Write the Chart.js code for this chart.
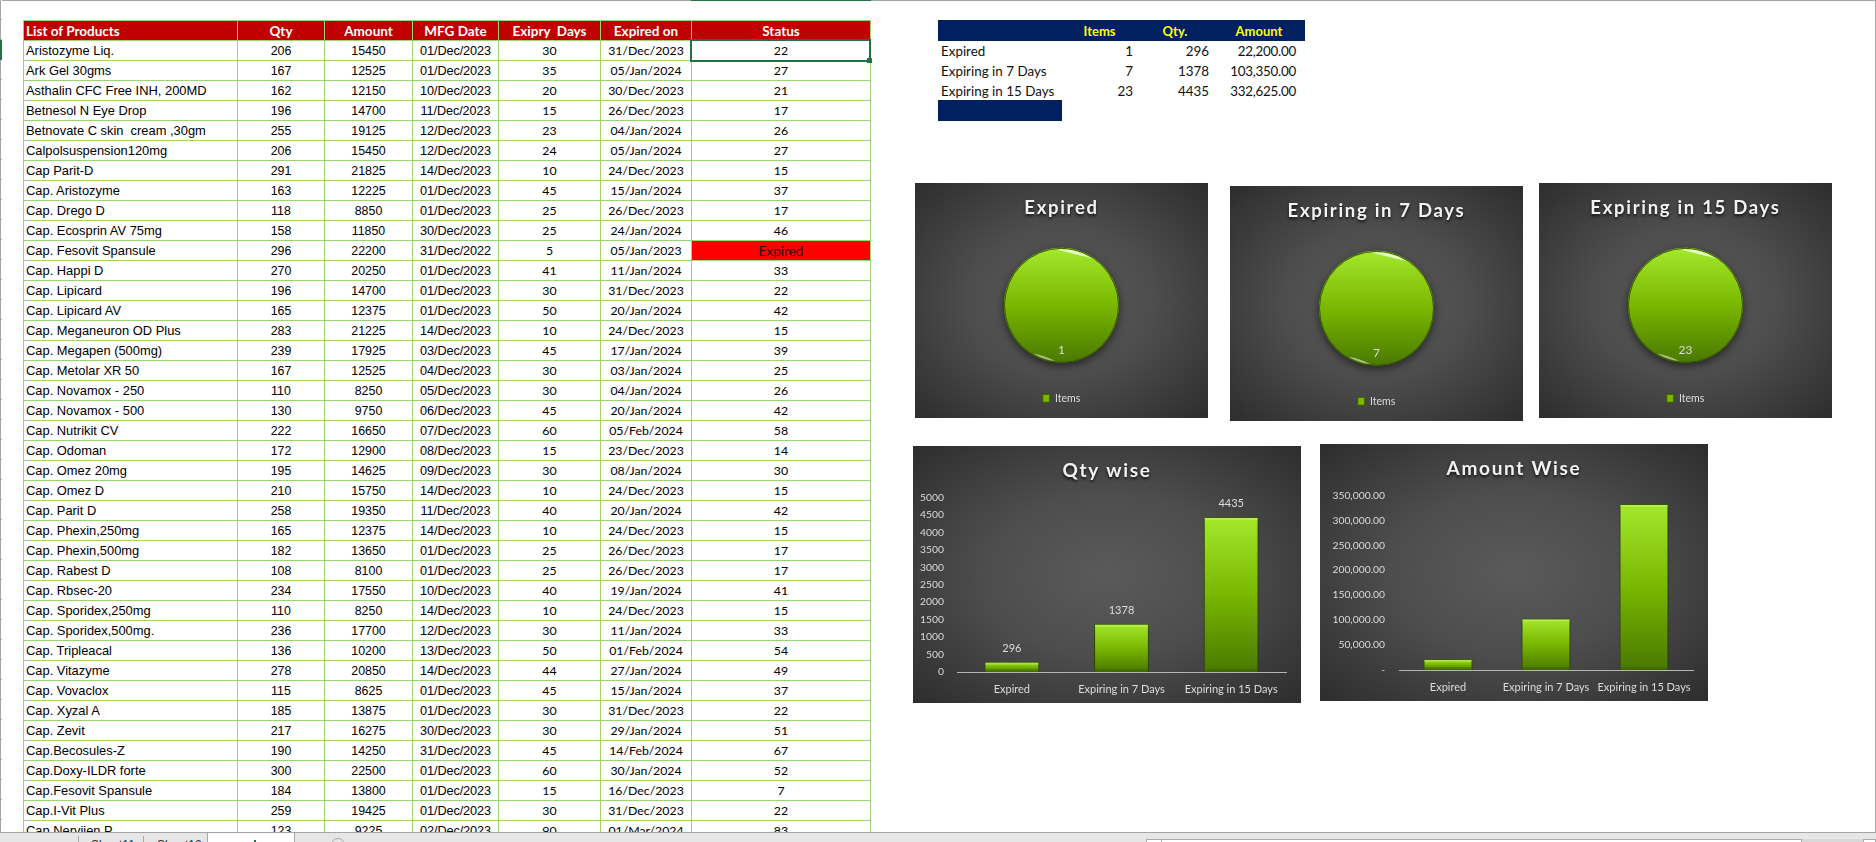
<!DOCTYPE html>
<html>
<head>
<meta charset="utf-8">
<title>Medicine expiry dashboard</title>
<script src="https://cdn.jsdelivr.net/npm/chart.js@4"></script>
<style>
html, body { margin: 0; padding: 0; width: 1876px; height: 842px; overflow: hidden; background: #fff; }
.abs { position: absolute; }
#topLine { left: 0; top: 0; width: 1876px; height: 1px; background: #a6a6a6; }
#topSel { left: 691px; top: 0; width: 180px; height: 1px; background: #217346; }
#gutter { left: 0; top: 0; width: 2px; height: 832px; background: repeating-linear-gradient(#fff 0, #fff 19px, #b0b0b0 19px, #b0b0b0 20px); border-left: 1px solid #a6a6a6; box-sizing: border-box; }
#gutterSel { left: 0; top: 40px; width: 2px; height: 20px; background: #217346; }
#rightLine { left: 1875px; top: 0; width: 1px; height: 832px; background: #a6a6a6; }
#sheet { left: 23px; top: 20px; border-collapse: collapse; table-layout: fixed; width: 847px; }
#sheet tr { height: 20px; }
#sheet th, #sheet td { border: 1px solid #9bd56f; height: 19px; box-sizing: border-box; padding: 0; white-space: nowrap; overflow: hidden; text-align: center; color: #000; line-height: 18px; }
#sheet th { background: #c00000; color: #fff; font: bold 13.5px/18px Lato, sans-serif; padding-top: 1px; }
#sheet th:first-child { text-align: left; padding-left: 2px; }
#sheet td.name { text-align: left; padding-left: 2px; font: 12.9px/18px "Liberation Sans", Arial, sans-serif; }
#sheet td.num { font: 12.4px/18px "Liberation Sans", Arial, sans-serif; }
#sheet td.mfg { font: 12.7px/18px "Liberation Sans", Arial, sans-serif; letter-spacing: -0.1px; }
#sheet td.cal { font: 12.3px/18px Lato, sans-serif; padding-top: 1px; }
#sheet td.exp { background: #ff0000; color: #300; font-size: 13.6px; }
#selCell { left: 690px; top: 39px; width: 177px; height: 19px; border: 2px solid #217346; }
#selHandle { left: 867px; top: 58px; width: 5px; height: 5px; background: #217346; }
#summary { left: 938px; top: 20px; border-collapse: collapse; table-layout: fixed; width: 367px; font: 13.4px/20px Lato, sans-serif; }
#summary th { background: #002060; color: #ffff00; height: 21px; padding: 1px 0 0; box-sizing: border-box; font: bold 13px/20px Lato, sans-serif; text-align: center; }
#summary td { height: 20px; padding: 1px 4px 0 0; box-sizing: border-box; line-height: 19px; text-align: right; color: #111; white-space: nowrap; }
#summary td:first-child { text-align: left; padding-left: 3px; }
#summary td:last-child { padding-right: 9px; letter-spacing: -0.25px; }
#summaryFoot { left: 938px; top: 100px; width: 124px; height: 21px; background: #002060; }
.panel { position: absolute; background: radial-gradient(ellipse farthest-corner at 50% 50%, #5a5a5a 0%, #4d4d4d 45%, #2d2d2d 100%); }
.panel canvas { display: block; }
#bottomBar { left: 0; top: 832px; width: 1876px; height: 10px; background: #e6e6e6; border-top: 1px solid #a6a6a6; box-sizing: border-box; overflow: hidden; z-index: 5; font: 12px/14px "Liberation Sans", sans-serif; color: #333; }
.tabSep { top: 3px; width: 1px; height: 8px; background: #a6a6a6; }
.tabName { top: 5px; }
#activeTab { left: 207px; top: -1px; width: 88px; height: 12px; background: #fff; border: 1px solid #a6a6a6; border-top: 0; box-sizing: border-box; }
#activeMark { left: 254px; top: 7px; width: 2px; height: 4px; background: #217346; }
#addSheet { left: 331px; top: 5px; width: 12px; height: 12px; border: 1px solid #a6a6a6; border-radius: 50%; }
#scrollBox { left: 1146px; top: 6px; width: 656px; height: 10px; background: #fff; border: 1px solid #ababab; box-sizing: border-box; }
#scrollArrow { left: 1161px; top: 6px; width: 1px; height: 8px; background: #ababab; }
#scrollRest { left: 1802px; top: 6px; width: 61px; height: 8px; background: #d8d8d8; }
#scrollEnd { left: 1863px; top: 6px; width: 13px; height: 10px; background: #fff; border: 1px solid #ababab; box-sizing: border-box; }
</style>
</head>
<body>
<div class="abs" id="topLine"></div>
<div class="abs" id="topSel"></div>
<div class="abs" id="gutter"></div>
<div class="abs" id="gutterSel"></div>
<div class="abs" id="rightLine"></div>

<table class="abs" id="sheet"></table>
<div class="abs" id="selCell"></div>
<div class="abs" id="selHandle"></div>

<table class="abs" id="summary"></table>
<div class="abs" id="summaryFoot"></div>

<div class="panel" style="left:915px;top:183px;width:293px;height:235px"><canvas id="pieExpired" width="293" height="235"></canvas></div>
<div class="panel" style="left:1230px;top:186px;width:293px;height:235px"><canvas id="pie7" width="293" height="235"></canvas></div>
<div class="panel" style="left:1539px;top:183px;width:293px;height:235px"><canvas id="pie15" width="293" height="235"></canvas></div>
<div class="panel" style="left:913px;top:446px;width:388px;height:257px"><canvas id="barQty" width="388" height="257"></canvas></div>
<div class="panel" style="left:1320px;top:444px;width:388px;height:257px"><canvas id="barAmount" width="388" height="257"></canvas></div>

<div class="abs" id="bottomBar">
  <div class="abs tabSep" style="left:78px"></div>
  <div class="abs tabName" style="left:91px">Sheet11</div>
  <div class="abs tabSep" style="left:143px"></div>
  <div class="abs tabName" style="left:157px">Sheet12</div>
  <div class="abs" id="activeTab"></div>
  <div class="abs" id="activeMark"></div>
  <div class="abs" id="addSheet"></div>
  <div class="abs" id="scrollBox"></div>
  <div class="abs" id="scrollArrow"></div>
  <div class="abs" id="scrollRest"></div>
  <div class="abs" id="scrollEnd"></div>
</div>

<script>
// sheet columns
const headers = ['List of Products', 'Qty', 'Amount', 'MFG Date', 'Exipry  Days', 'Expired on', 'Status'];
const columnWidths = [214, 87, 88, 86, 102, 91, 179];
const products = ['Aristozyme Liq.', 'Ark Gel 30gms', 'Asthalin CFC Free INH, 200MD', 'Betnesol N Eye Drop', 'Betnovate C skin  cream ,30gm', 'Calpolsuspension120mg', 'Cap Parit-D', 'Cap. Aristozyme', 'Cap. Drego D', 'Cap. Ecosprin AV 75mg', 'Cap. Fesovit Spansule', 'Cap. Happi D', 'Cap. Lipicard', 'Cap. Lipicard AV', 'Cap. Meganeuron OD Plus', 'Cap. Megapen (500mg)', 'Cap. Metolar XR 50', 'Cap. Novamox - 250', 'Cap. Novamox - 500', 'Cap. Nutrikit CV', 'Cap. Odoman', 'Cap. Omez 20mg', 'Cap. Omez D', 'Cap. Parit D', 'Cap. Phexin,250mg', 'Cap. Phexin,500mg', 'Cap. Rabest D', 'Cap. Rbsec-20', 'Cap. Sporidex,250mg', 'Cap. Sporidex,500mg.', 'Cap. Tripleacal', 'Cap. Vitazyme', 'Cap. Vovaclox', 'Cap. Xyzal A', 'Cap. Zevit', 'Cap.Becosules-Z', 'Cap.Doxy-ILDR forte', 'Cap.Fesovit Spansule', 'Cap.I-Vit Plus', 'Cap.Nervijen P'];
const quantities = [206, 167, 162, 196, 255, 206, 291, 163, 118, 158, 296, 270, 196, 165, 283, 239, 167, 110, 130, 222, 172, 195, 210, 258, 165, 182, 108, 234, 110, 236, 136, 278, 115, 185, 217, 190, 300, 184, 259, 123];
const amounts = [15450, 12525, 12150, 14700, 19125, 15450, 21825, 12225, 8850, 11850, 22200, 20250, 14700, 12375, 21225, 17925, 12525, 8250, 9750, 16650, 12900, 14625, 15750, 19350, 12375, 13650, 8100, 17550, 8250, 17700, 10200, 20850, 8625, 13875, 16275, 14250, 22500, 13800, 19425, 9225];
const mfgDates = ['01/Dec/2023', '01/Dec/2023', '10/Dec/2023', '11/Dec/2023', '12/Dec/2023', '12/Dec/2023', '14/Dec/2023', '01/Dec/2023', '01/Dec/2023', '30/Dec/2023', '31/Dec/2022', '01/Dec/2023', '01/Dec/2023', '01/Dec/2023', '14/Dec/2023', '03/Dec/2023', '04/Dec/2023', '05/Dec/2023', '06/Dec/2023', '07/Dec/2023', '08/Dec/2023', '09/Dec/2023', '14/Dec/2023', '11/Dec/2023', '14/Dec/2023', '01/Dec/2023', '01/Dec/2023', '10/Dec/2023', '14/Dec/2023', '12/Dec/2023', '13/Dec/2023', '14/Dec/2023', '01/Dec/2023', '01/Dec/2023', '30/Dec/2023', '31/Dec/2023', '01/Dec/2023', '01/Dec/2023', '01/Dec/2023', '02/Dec/2023'];
const expiryDays = [30, 35, 20, 15, 23, 24, 10, 45, 25, 25, 5, 41, 30, 50, 10, 45, 30, 30, 45, 60, 15, 30, 10, 40, 10, 25, 25, 40, 10, 30, 50, 44, 45, 30, 30, 45, 60, 15, 30, 90];
const expiredOn = ['31/Dec/2023', '05/Jan/2024', '30/Dec/2023', '26/Dec/2023', '04/Jan/2024', '05/Jan/2024', '24/Dec/2023', '15/Jan/2024', '26/Dec/2023', '24/Jan/2024', '05/Jan/2023', '11/Jan/2024', '31/Dec/2023', '20/Jan/2024', '24/Dec/2023', '17/Jan/2024', '03/Jan/2024', '04/Jan/2024', '20/Jan/2024', '05/Feb/2024', '23/Dec/2023', '08/Jan/2024', '24/Dec/2023', '20/Jan/2024', '24/Dec/2023', '26/Dec/2023', '26/Dec/2023', '19/Jan/2024', '24/Dec/2023', '11/Jan/2024', '01/Feb/2024', '27/Jan/2024', '15/Jan/2024', '31/Dec/2023', '29/Jan/2024', '14/Feb/2024', '30/Jan/2024', '16/Dec/2023', '31/Dec/2023', '01/Mar/2024'];
const statuses = [22, 27, 21, 17, 26, 27, 15, 37, 17, 46, 'Expired', 33, 22, 42, 15, 39, 25, 26, 42, 58, 14, 30, 15, 42, 15, 17, 17, 41, 15, 33, 54, 49, 37, 22, 51, 67, 52, 7, 22, 83];

// summary block, the charts read from these too
const summaryHeaders = ['', 'Items', 'Qty.', 'Amount'];
const summaryWidths = [124, 75, 76, 92];
const categories = ['Expired', 'Expiring in 7 Days', 'Expiring in 15 Days'];
const itemCounts = [1, 7, 23];
const qtyTotals = [296, 1378, 4435];
const amountTotals = [22200, 103350, 332625];

function money(v) {
    return v.toLocaleString('en-US', { minimumFractionDigits: 2, maximumFractionDigits: 2 });
}

// build the sheet
let html = '<colgroup>' + columnWidths.map(w => '<col style="width:' + w + 'px">').join('') + '</colgroup>';
html += '<tr>' + headers.map(h => '<th>' + h.replace(/ /g, '&nbsp;') + '</th>').join('') + '</tr>';
products.forEach(function (name, i) {
    const isExpired = statuses[i] === 'Expired';
    html += '<tr><td class="name">' + name.replace(/  /g, '&nbsp; ') + '</td>'
        + '<td class="num">' + quantities[i] + '</td>'
        + '<td class="num">' + amounts[i] + '</td>'
        + '<td class="mfg">' + mfgDates[i] + '</td>'
        + '<td class="cal">' + expiryDays[i] + '</td>'
        + '<td class="cal">' + expiredOn[i] + '</td>'
        + '<td class="cal' + (isExpired ? ' exp' : '') + '">' + statuses[i] + '</td></tr>';
});
document.getElementById('sheet').innerHTML = html;

let sumHtml = '<colgroup>' + summaryWidths.map(w => '<col style="width:' + w + 'px">').join('') + '</colgroup>';
sumHtml += '<tr>' + summaryHeaders.map(h => '<th>' + h + '</th>').join('') + '</tr>';
categories.forEach(function (c, i) {
    sumHtml += '<tr><td>' + c + '</td><td>' + itemCounts[i] + '</td><td>' + qtyTotals[i] + '</td><td>' + money(amountTotals[i]) + '</td></tr>';
});
document.getElementById('summary').innerHTML = sumHtml;

// chart look
const FONT = 'Lato, sans-serif';
const TEXT = '#dcdcdc';

function greenGradient(ctx, top, bottom) {
    const g = ctx.createLinearGradient(0, top, 0, bottom);
    g.addColorStop(0, '#a4e82c');
    g.addColorStop(0.5, '#79b700');
    g.addColorStop(1, '#4a7800');
    return g;
}

// letter spacing and soft shadow on the chart title, centred on the whole panel
const titleStyle = {
    id: 'titleStyle',
    beforeDraw(chart) {
        const box = chart.titleBlock;
        if (!box || box._styled) return;
        box._styled = true;
        const draw = box.draw;
        box.draw = function (area) {
            const c = this.ctx;
            c.save();
            c.translate(chart.width / 2 - (this.left + this.right) / 2, 0);
            c.letterSpacing = '1.7px';
            c.shadowColor = 'rgba(0,0,0,0.75)';
            c.shadowBlur = 3;
            c.shadowOffsetY = 2;
            draw.call(this, area);
            c.restore();
        };
    }
};

// drop shadow under the marks
const markShadow = {
    id: 'markShadow',
    beforeDatasetsDraw(chart) {
        const c = chart.ctx;
        c.save();
        c.shadowColor = 'rgba(0,0,0,0.55)';
        c.shadowBlur = 8;
        c.shadowOffsetY = 3;
    },
    afterDatasetsDraw(chart) {
        chart.ctx.restore();
    }
};

// dark rim, glossy crescents and the value label on a pie
const pieGloss = {
    id: 'pieGloss',
    afterDatasetsDraw(chart) {
        const c = chart.ctx;
        const arc = chart.getDatasetMeta(0).data[0];
        const crescents = [[-1.66, -1.0, 0.72], [1.68, 2.1, 0.5]];
        c.save();
        c.beginPath();
        c.arc(arc.x, arc.y, arc.outerRadius - 0.5, 0, Math.PI * 2);
        c.strokeStyle = '#375800';
        c.lineWidth = 1;
        c.stroke();
        c.filter = 'blur(0.7px)';
        crescents.forEach(function (s) {
            const mid = (s[0] + s[1]) / 2;
            const r = arc.outerRadius - 1.5;
            c.beginPath();
            c.arc(arc.x, arc.y, r, s[0], s[1]);
            c.quadraticCurveTo(arc.x + Math.cos(mid) * r * 0.94, arc.y + Math.sin(mid) * r * 0.94,
                arc.x + Math.cos(s[0]) * r, arc.y + Math.sin(s[0]) * r);
            c.fillStyle = 'rgba(255,255,255,' + s[2] + ')';
            c.fill();
        });
        c.restore();
        c.save();
        c.fillStyle = TEXT;
        c.font = '12px ' + FONT;
        c.textAlign = 'center';
        c.textBaseline = 'middle';
        c.fillText(chart.data.datasets[0].data[0], arc.x, arc.y + arc.outerRadius * 0.78);
        c.restore();
    }
};

// bevel strip on the bars and the value labels above them
const barBevel = {
    id: 'barBevel',
    afterDatasetsDraw(chart) {
        const c = chart.ctx;
        const showValues = chart.options.plugins.barBevel.showValues;
        chart.getDatasetMeta(0).data.forEach(function (bar, i) {
            const left = bar.x - bar.width / 2;
            c.save();
            c.fillStyle = 'rgba(235,255,170,0.28)';
            c.fillRect(left + 1, bar.y + 1, bar.width - 2, 2);
            c.fillStyle = 'rgba(0,0,0,0.12)';
            c.fillRect(left + 1, bar.base - 3, bar.width - 2, 3);
            if (showValues) {
                c.fillStyle = TEXT;
                c.font = '11px ' + FONT;
                c.textAlign = 'center';
                c.textBaseline = 'middle';
                c.fillText(chart.data.datasets[0].data[i], bar.x, bar.y - 13.5);
            }
            c.restore();
        });
    }
};

function makePie(id, title, value) {
    new Chart(document.getElementById(id), {
        type: 'pie',
        data: {
            labels: ['Items'],
            datasets: [{
                data: [value],
                radius: 57.5,
                borderWidth: 0,
                backgroundColor: function (ctx) {
                    const a = ctx.chart.chartArea;
                    if (!a) return '#79b700';
                    const mid = (a.top + a.bottom) / 2;
                    return greenGradient(ctx.chart.ctx, mid - 57.5, mid + 57.5);
                }
            }]
        },
        options: {
            responsive: false,
            animation: false,
            layout: { autoPadding: false, padding: { bottom: 4.5 } },
            plugins: {
                tooltip: { enabled: false },
                title: {
                    display: true,
                    text: title,
                    color: '#f2f2f2',
                    font: { family: FONT, size: 18.5, weight: 'bold' },
                    padding: { top: 14, bottom: 4.5 }
                },
                legend: {
                    position: 'bottom',
                    labels: {
                        color: TEXT, boxWidth: 7, boxHeight: 8, padding: 6, font: { family: FONT, size: 10.5 },
                        generateLabels(chart) {
                            const items = Chart.overrides.pie.plugins.legend.labels.generateLabels(chart);
                            items.forEach(function (it) {
                                it.fillStyle = '#7ab800';
                                it.strokeStyle = '#375800';
                                it.lineWidth = 1;
                            });
                            return items;
                        }
                    }
                }
            }
        },
        plugins: [titleStyle, markShadow, pieGloss]
    });
}

function makeBar(id, title, values, maxValue, step, yWidth, tickPad, tickFormat, showValues) {
    new Chart(document.getElementById(id), {
        type: 'bar',
        data: {
            labels: categories,
            datasets: [{
                data: values,
                barPercentage: 0.5,
                categoryPercentage: 1,
                borderWidth: 1,
                borderColor: '#3d6200',
                backgroundColor: function (ctx) {
                    const y = ctx.chart.scales.y;
                    if (!y) return '#79b700';
                    const top = y.getPixelForValue(ctx.raw);
                    const bottom = y.getPixelForValue(0);
                    if (!Number.isFinite(top) || !Number.isFinite(bottom)) return '#79b700';
                    return greenGradient(ctx.chart.ctx, top, bottom);
                }
            }]
        },
        options: {
            responsive: false,
            animation: false,
            layout: { autoPadding: false, padding: { right: 15 } },
            scales: {
                x: {
                    grid: { display: false },
                    border: { display: true, color: '#b4b4b4' },
                    ticks: { color: TEXT, font: { family: FONT, size: 11 }, padding: 3, maxRotation: 0, autoSkip: false },
                    afterFit(scale) { scale.height = 31; }
                },
                y: {
                    min: 0,
                    max: maxValue,
                    grid: { display: false },
                    border: { display: false },
                    ticks: { stepSize: step, color: TEXT, font: { family: FONT, size: 10.3 }, padding: tickPad, callback: tickFormat },
                    afterFit(scale) { scale.width = yWidth; }
                }
            },
            plugins: {
                tooltip: { enabled: false },
                legend: { display: false },
                barBevel: { showValues: showValues },
                title: {
                    display: true,
                    text: title,
                    color: '#f2f2f2',
                    font: { family: FONT, size: 19, weight: 'bold' },
                    padding: { top: 13, bottom: 15.5 }
                }
            }
        },
        plugins: [titleStyle, markShadow, barBevel]
    });
}

makePie('pieExpired', categories[0], itemCounts[0]);
makePie('pie7', categories[1], itemCounts[1]);
makePie('pie15', categories[2], itemCounts[2]);
makeBar('barQty', 'Qty wise', qtyTotals, 5000, 500, 44, 5, v => v, true);
makeBar('barAmount', 'Amount Wise', amountTotals, 350000, 50000, 79, 6, v => (v === 0 ? '-' : money(v)), false);
</script>
</body>
</html>
